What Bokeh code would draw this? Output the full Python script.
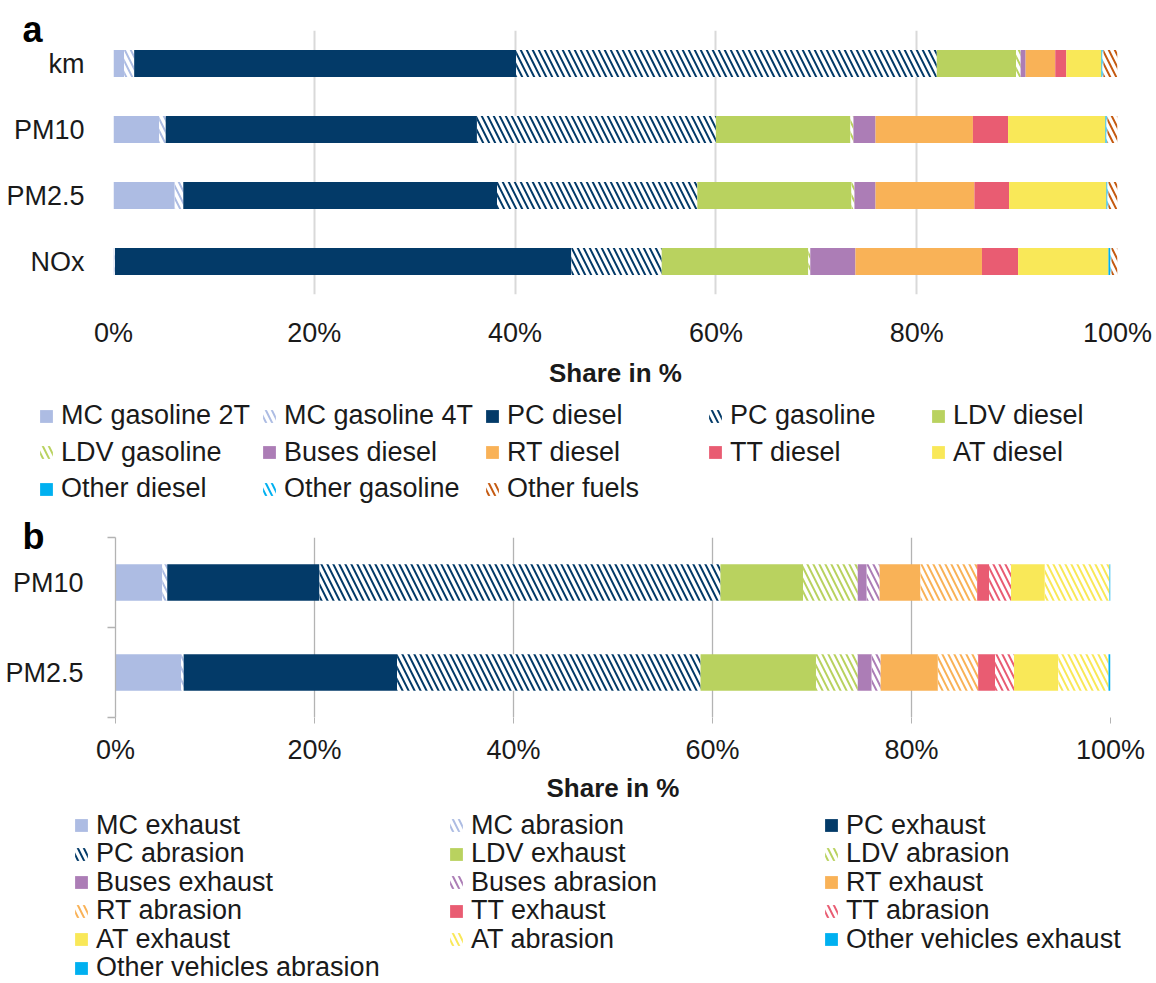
import numpy as np
from bokeh.plotting import figure
from bokeh.models import (Range1d, FixedTicker, Legend, LegendItem,
                          ColumnDataSource)
from bokeh.embed import file_html
from bokeh.resources import INLINE

# ---------------- panel a: shares by vehicle/fuel class (%) ----------------
a_categories = ["km", "PM10", "PM2.5", "NOx"]
a_series = ["MC gasoline 2T", "MC gasoline 4T", "PC diesel", "PC gasoline",
            "LDV diesel", "LDV gasoline", "Buses diesel", "RT diesel",
            "TT diesel", "AT diesel", "Other diesel", "Other gasoline",
            "Other fuels"]
a_mc_gasoline_2t = [1.06, 4.55, 6.10, 0.10]
a_mc_gasoline_4t = [1.00, 0.65, 0.85, 0.05]
a_pc_diesel = [38.04, 31.00, 31.25, 45.45]
a_pc_gasoline = [41.90, 23.80, 19.95, 9.00]
a_ldv_diesel = [7.90, 13.40, 15.35, 14.60]
a_ldv_gasoline = [0.45, 0.30, 0.30, 0.20]
a_buses_diesel = [0.50, 2.20, 2.10, 4.50]
a_rt_diesel = [2.95, 9.70, 9.85, 12.60]
a_tt_diesel = [1.10, 3.50, 3.45, 3.60]
a_at_diesel = [3.50, 9.70, 9.70, 9.00]
a_other_diesel = [0.10, 0.10, 0.10, 0.20]
a_other_gasoline = [0.10, 0.10, 0.10, 0.10]
a_other_fuels = [1.40, 1.00, 0.90, 0.60]

# ---------------- panel b: exhaust vs abrasion shares (%) ----------------
b_categories = ["PM10", "PM2.5"]
b_series = ["MC exhaust", "MC abrasion", "PC exhaust", "PC abrasion",
            "LDV exhaust", "LDV abrasion", "Buses exhaust", "Buses abrasion",
            "RT exhaust", "RT abrasion", "TT exhaust", "TT abrasion",
            "AT exhaust", "AT abrasion", "Other vehicles exhaust",
            "Other vehicles abrasion"]
b_mc_exhaust = [4.70, 6.60]
b_mc_abrasion = [0.50, 0.25]
b_pc_exhaust = [15.30, 21.45]
b_pc_abrasion = [40.30, 30.50]
b_ldv_exhaust = [8.30, 11.60]
b_ldv_abrasion = [5.50, 4.20]
b_buses_exhaust = [0.90, 1.40]
b_buses_abrasion = [1.30, 0.90]
b_rt_exhaust = [4.10, 5.75]
b_rt_abrasion = [5.70, 4.05]
b_tt_exhaust = [1.20, 1.70]
b_tt_abrasion = [2.20, 1.90]
b_at_exhaust = [3.40, 4.45]
b_at_abrasion = [6.50, 5.05]
b_other_exhaust = [0.05, 0.05]
b_other_abrasion = [0.05, 0.15]

x_ticks = [0, 20, 40, 60, 80, 100]
x_tick_labels = ["0%", "20%", "40%", "60%", "80%", "100%"]

a_values = [a_mc_gasoline_2t, a_mc_gasoline_4t, a_pc_diesel, a_pc_gasoline,
            a_ldv_diesel, a_ldv_gasoline, a_buses_diesel, a_rt_diesel,
            a_tt_diesel, a_at_diesel, a_other_diesel, a_other_gasoline,
            a_other_fuels]
b_values = [b_mc_exhaust, b_mc_abrasion, b_pc_exhaust, b_pc_abrasion,
            b_ldv_exhaust, b_ldv_abrasion, b_buses_exhaust, b_buses_abrasion,
            b_rt_exhaust, b_rt_abrasion, b_tt_exhaust, b_tt_abrasion,
            b_at_exhaust, b_at_abrasion, b_other_exhaust, b_other_abrasion]

# colours and fill style for each series
MC, PC, LDV, BUS = "#adbce3", "#033a68", "#b9d25f", "#ac7db6"
RT, TT, AT, OTH, FUEL = "#f9b257", "#e95c72", "#f9e858", "#00b0f0", "#c55a11"
a_colors = [MC, MC, PC, PC, LDV, LDV, BUS, RT, TT, AT, OTH, OTH, FUEL]
a_hatched = [False, True, False, True, False, True, False, False, False,
             False, False, True, True]
b_colors = [MC, MC, PC, PC, LDV, LDV, BUS, BUS, RT, RT, TT, TT, AT, AT, OTH, OTH]
b_hatched = [False, True] * 7 + [False, False]

FONT = "Liberation Sans"
TEXT = "#1a1a1a"
W = 1156


def bar_style(color, hatched):
    if hatched:
        return dict(fill_color="white", hatch_color=color,
                    hatch_pattern="left_diagonal_line", hatch_weight=2,
                    hatch_scale=12, line_color=None)
    return dict(fill_color=color, line_color=None)


def stacked_panel(categories, series, values, colors, hatched, fig_h,
                  border_top, border_bottom, border_left, border_right,
                  bar_h, tag):
    n = len(categories)
    ypos = list(range(n, 0, -1))  # first category on top
    p = figure(width=W, height=fig_h, output_backend="svg",
               toolbar_location=None, x_range=Range1d(0, 100),
               y_range=Range1d(0.5, n + 0.5),
               min_border_top=border_top, min_border_bottom=border_bottom,
               min_border_left=border_left, min_border_right=border_right)
    p.outline_line_color = None
    left = np.zeros(n)
    for name, vals, c, h in zip(series, values, colors, hatched):
        vals = np.array(vals, dtype=float)
        src = ColumnDataSource(dict(y=ypos, left=left.copy(),
                                    right=left + vals))
        p.hbar(y="y", left="left", right="right", height=bar_h, source=src,
               **bar_style(c, h))
        left = left + vals
    p.xaxis.ticker = FixedTicker(ticks=x_ticks)
    p.xaxis.major_label_overrides = dict(zip(x_ticks, x_tick_labels))
    p.yaxis.ticker = FixedTicker(ticks=ypos)
    p.yaxis.major_label_overrides = dict(zip(ypos, categories))
    p.ygrid.visible = False
    for ax in (p.xaxis[0], p.yaxis[0]):
        ax.major_label_text_font = FONT
        ax.major_label_text_font_size = "27px"
        ax.major_label_text_color = TEXT
        ax.minor_tick_line_color = None
        ax.major_tick_line_color = None
        ax.axis_line_color = None
    p.xaxis.axis_label = "Share in %"
    p.xaxis.axis_label_text_font = FONT
    p.xaxis.axis_label_text_font_size = "26px"
    p.xaxis.axis_label_text_font_style = "bold"
    p.xaxis.axis_label_text_color = TEXT
    # panel tag ("a" / "b") in the top-left corner
    p.title.text = tag
    p.title.align = "left"
    p.title.offset = 22 - border_left
    p.title.text_font = FONT
    p.title.text_font_size = "36px"
    p.title.text_font_style = "bold"
    p.title.text_color = "black"
    p.title.vertical_align = "middle"
    p.title.standoff = -40
    return p


def legend_panel(series, colors, hatched, fig_h, left, first_row, row_step,
                 ncols, label_width, gap):
    """Legend grid, one Legend per row so the row pitch can be set freely."""
    p = figure(width=W, height=fig_h, output_backend="svg",
               toolbar_location=None, x_range=Range1d(0, 1),
               y_range=Range1d(0, 1), x_axis_type=None, y_axis_type=None,
               min_border_left=left, min_border_top=0, min_border_right=0,
               min_border_bottom=0)
    p.outline_line_color = None
    p.grid.visible = False
    # zero-length bars that only carry the swatch styles
    rends = [p.hbar(y=[-1], left=[0], right=[0], height=0,
                    **bar_style(c, h)) for c, h in zip(colors, hatched)]
    item_h = 31  # text box height of a 27px label
    nrows = -(-len(series) // ncols)
    for r in range(nrows):
        idx = range(r * ncols, min((r + 1) * ncols, len(series)))
        centre = first_row + r * row_step
        leg = Legend(items=[LegendItem(label=series[i], renderers=[rends[i]])
                            for i in idx],
                     location=(0, fig_h - centre - item_h / 2),
                     orientation="horizontal", ncols=ncols, spacing=gap,
                     padding=0, margin=0, border_line_color=None,
                     background_fill_alpha=0, glyph_width=16,
                     glyph_height=16, label_height=26,
                     label_width=label_width, label_standoff=7,
                     label_text_font=FONT, label_text_font_size="27px",
                     label_text_color=TEXT)
        p.add_layout(leg)
    return p


# ---- panel a ----
pa = stacked_panel(a_categories, a_series, a_values, a_colors, a_hatched,
                   fig_h=390, border_top=30, border_bottom=90,
                   border_left=113, border_right=39, bar_h=0.41, tag="a")
pa.xgrid.grid_line_color = "#d9d9d9"
pa.xgrid.grid_line_width = 2
pa.xaxis.major_label_standoff = 17
pa.xaxis.axis_label_standoff = 7
pa.yaxis.major_label_standoff = 23

lega = legend_panel(a_series, a_colors, a_hatched, fig_h=115, left=38,
                    first_row=25.5, row_step=36.5, ncols=5, label_width=195,
                    gap=5)

# ---- panel b ----
pb = stacked_panel(b_categories, b_series, b_values, b_colors, b_hatched,
                   fig_h=300, border_top=32, border_bottom=88,
                   border_left=115, border_right=46, bar_h=0.405, tag="b")
pb.xgrid.grid_line_color = "#b3b3b3"
pb.xgrid.grid_line_width = 1.3
pb.xaxis.major_tick_line_color = "#b3b3b3"
pb.xaxis.major_tick_out = 6
pb.xaxis.major_tick_in = 0
pb.xaxis.major_label_standoff = 11
pb.xaxis.axis_label_standoff = 5
yax = pb.yaxis[0]
yax.ticker = FixedTicker(ticks=[1, 2], minor_ticks=[0.5, 1.5, 2.5])
yax.axis_line_color = "#b3b3b3"
yax.axis_line_width = 1.3
yax.minor_tick_line_color = "#b3b3b3"
yax.minor_tick_line_width = 1.3
yax.minor_tick_out = 8
yax.minor_tick_in = 0
yax.major_label_standoff = 24

legb = legend_panel(b_series, b_colors, b_hatched, fig_h=178, left=73,
                    first_row=20, row_step=28.5, ncols=3, label_width=352,
                    gap=0)

open("out.html", "w").write(file_html([pa, lega, pb, legb], INLINE))
